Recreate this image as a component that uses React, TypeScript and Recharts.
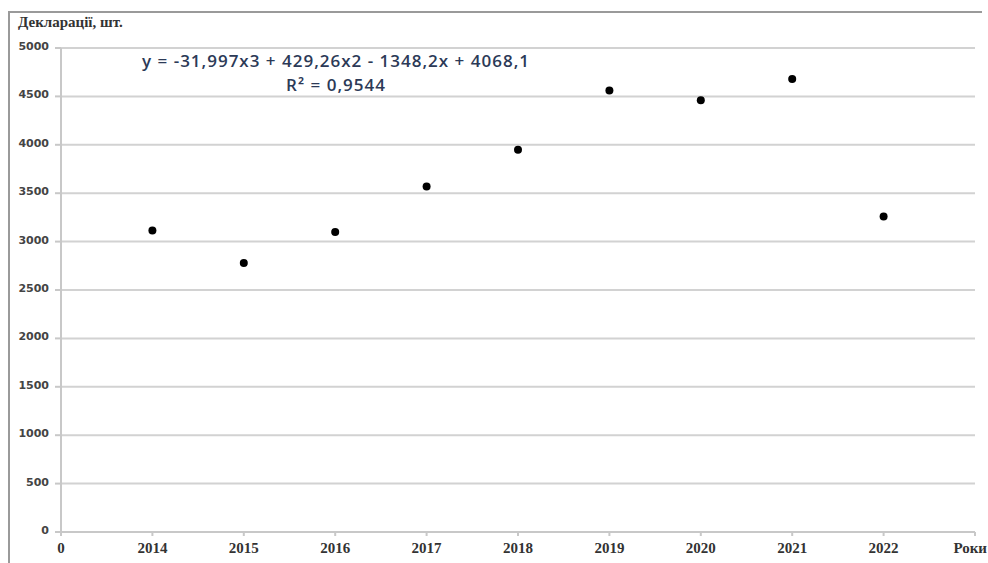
import React from 'react';
import { ScatterChart, Scatter, XAxis, YAxis, CartesianGrid } from 'recharts';

const years = ['2014', '2015', '2016', '2017', '2018', '2019', '2020', '2021', '2022'];
const declarations = [3115, 2780, 3100, 3570, 3950, 4560, 4460, 4680, 3260];
const xTickLabels = ['0', ...years, 'Роки'];
const xTicks = [0, 1, 2, 3, 4, 5, 6, 7, 8, 9, 10];
const yTicks = [0, 500, 1000, 1500, 2000, 2500, 3000, 3500, 4000, 4500, 5000];
const equationText = 'y = -31,997x3 + 429,26x2 - 1348,2x + 4068,1';
const r2Text = 'R² = 0,9544';

const data = years.map((year, i) => ({ x: i + 1, y: declarations[i], year }));

const Dot = (props: any) => {
  const { cx, cy } = props;
  return <circle cx={cx} cy={cy} r={4} fill="#000" />;
};

// last label ("Роки") is pinned to the right edge so it isn't clipped
const XTick = (props: any) => {
  const { x, y, payload, index } = props;
  const isLast = index === xTicks.length - 1;
  return (
    <text
      x={isLast ? x + 12 : x}
      y={y}
      dy="0.71em"
      textAnchor={isLast ? 'end' : 'middle'}
      fill="#333"
      fontSize={15}
      fontWeight="bold"
      fontFamily='"Liberation Serif", serif'
    >
      {xTickLabels[payload.value]}
    </text>
  );
};

export default function App() {
  return (
    <div style={{ position: 'absolute', left: 0, top: 0, width: 988, height: 563, background: '#fff', overflow: 'hidden' }}>
      <div
        style={{
          position: 'absolute',
          left: 8,
          top: 11,
          width: 972,
          height: 560,
          borderTop: '2px solid #9a9a9a',
          borderLeft: '2px solid #9a9a9a',
        }}
      />
      <div
        style={{
          position: 'absolute',
          left: 18,
          top: 14,
          fontFamily: '"Liberation Serif", serif',
          fontWeight: 'bold',
          fontSize: 15,
          color: '#333',
        }}
      >
        Декларації, шт.
      </div>
      <ScatterChart width={988} height={563} margin={{ top: 48, right: 13, left: 0, bottom: 0 }}>
        <CartesianGrid vertical={false} stroke="#d2d2d2" strokeWidth={2} />
        <XAxis
          type="number"
          dataKey="x"
          domain={[0, 10]}
          ticks={xTicks}
          height={31}
          stroke="#c8c8c8"
          strokeWidth={2}
          tickSize={4}
          tickMargin={6}
          tick={<XTick />}
          interval={0}
        />
        <YAxis
          type="number"
          dataKey="y"
          domain={[0, 5000]}
          ticks={yTicks}
          width={61}
          stroke="#c8c8c8"
          strokeWidth={2}
          tickSize={6}
          tickMargin={6}
          tick={{ fill: '#444', fontSize: 11, fontWeight: 'bold', fontFamily: '"DejaVu Sans", sans-serif', dy: -2 }}
          interval={0}
        />
        <Scatter data={data} shape={<Dot />} isAnimationActive={false} />
      </ScatterChart>
      <div
        style={{
          position: 'absolute',
          left: 116,
          width: 440,
          top: 49,
          textAlign: 'center',
          fontFamily: '"Open Sans", sans-serif',
          fontWeight: 600,
          fontSize: 17,
          letterSpacing: 1,
          lineHeight: '24px',
          color: '#2c3a57',
        }}
      >
        <div>{equationText}</div>
        <div>{r2Text}</div>
      </div>
    </div>
  );
}
